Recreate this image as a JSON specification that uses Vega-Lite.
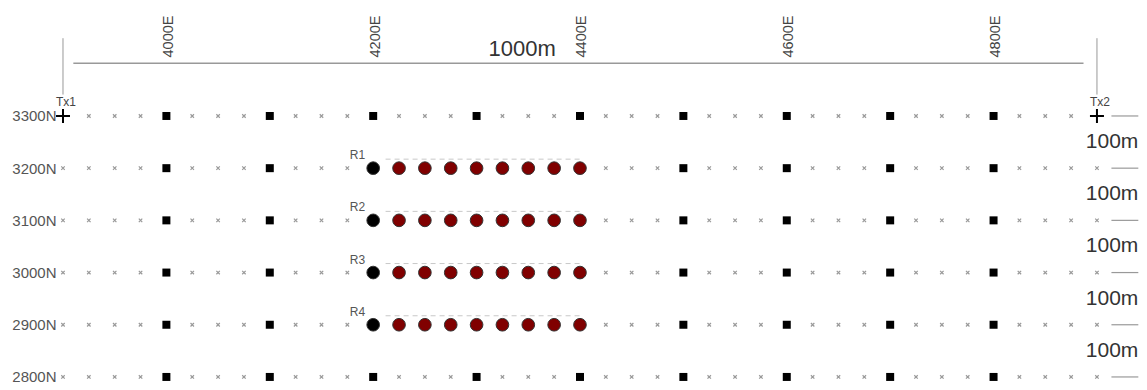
{
"$schema": "https://vega.github.io/schema/vega-lite/v6.json",
"autosize": "none",
"width": 1087,
"height": 328,
"padding": {"left": 60, "top": 62, "right": 0, "bottom": 0},
"background": "white",
"config": {"font": "Liberation Sans", "view": {"stroke": null}, "axis": {"labelFont": "Liberation Sans"}},
"datasets": {
"xs": [
{"e":3925,"n":3300},{"e":3950,"n":3300},{"e":3975,"n":3300},{"e":4025,"n":3300},{"e":4050,"n":3300},{"e":4075,"n":3300},{"e":4125,"n":3300},{"e":4150,"n":3300},{"e":4175,"n":3300},{"e":4225,"n":3300},{"e":4250,"n":3300},{"e":4275,"n":3300},{"e":4325,"n":3300},{"e":4350,"n":3300},{"e":4375,"n":3300},{"e":4425,"n":3300},{"e":4450,"n":3300},{"e":4475,"n":3300},{"e":4525,"n":3300},{"e":4550,"n":3300},{"e":4575,"n":3300},{"e":4625,"n":3300},{"e":4650,"n":3300},{"e":4675,"n":3300},{"e":4725,"n":3300},{"e":4750,"n":3300},{"e":4775,"n":3300},{"e":4825,"n":3300},{"e":4850,"n":3300},{"e":4875,"n":3300},
{"e":3900,"n":3200},{"e":3925,"n":3200},{"e":3950,"n":3200},{"e":3975,"n":3200},{"e":4025,"n":3200},{"e":4050,"n":3200},{"e":4075,"n":3200},{"e":4125,"n":3200},{"e":4150,"n":3200},{"e":4175,"n":3200},{"e":4425,"n":3200},{"e":4450,"n":3200},{"e":4475,"n":3200},{"e":4525,"n":3200},{"e":4550,"n":3200},{"e":4575,"n":3200},{"e":4625,"n":3200},{"e":4650,"n":3200},{"e":4675,"n":3200},{"e":4725,"n":3200},{"e":4750,"n":3200},{"e":4775,"n":3200},{"e":4825,"n":3200},{"e":4850,"n":3200},{"e":4875,"n":3200},{"e":4900,"n":3200},
{"e":3900,"n":3100},{"e":3925,"n":3100},{"e":3950,"n":3100},{"e":3975,"n":3100},{"e":4025,"n":3100},{"e":4050,"n":3100},{"e":4075,"n":3100},{"e":4125,"n":3100},{"e":4150,"n":3100},{"e":4175,"n":3100},{"e":4425,"n":3100},{"e":4450,"n":3100},{"e":4475,"n":3100},{"e":4525,"n":3100},{"e":4550,"n":3100},{"e":4575,"n":3100},{"e":4625,"n":3100},{"e":4650,"n":3100},{"e":4675,"n":3100},{"e":4725,"n":3100},{"e":4750,"n":3100},{"e":4775,"n":3100},{"e":4825,"n":3100},{"e":4850,"n":3100},{"e":4875,"n":3100},{"e":4900,"n":3100},
{"e":3900,"n":3000},{"e":3925,"n":3000},{"e":3950,"n":3000},{"e":3975,"n":3000},{"e":4025,"n":3000},{"e":4050,"n":3000},{"e":4075,"n":3000},{"e":4125,"n":3000},{"e":4150,"n":3000},{"e":4175,"n":3000},{"e":4425,"n":3000},{"e":4450,"n":3000},{"e":4475,"n":3000},{"e":4525,"n":3000},{"e":4550,"n":3000},{"e":4575,"n":3000},{"e":4625,"n":3000},{"e":4650,"n":3000},{"e":4675,"n":3000},{"e":4725,"n":3000},{"e":4750,"n":3000},{"e":4775,"n":3000},{"e":4825,"n":3000},{"e":4850,"n":3000},{"e":4875,"n":3000},{"e":4900,"n":3000},
{"e":3900,"n":2900},{"e":3925,"n":2900},{"e":3950,"n":2900},{"e":3975,"n":2900},{"e":4025,"n":2900},{"e":4050,"n":2900},{"e":4075,"n":2900},{"e":4125,"n":2900},{"e":4150,"n":2900},{"e":4175,"n":2900},{"e":4425,"n":2900},{"e":4450,"n":2900},{"e":4475,"n":2900},{"e":4525,"n":2900},{"e":4550,"n":2900},{"e":4575,"n":2900},{"e":4625,"n":2900},{"e":4650,"n":2900},{"e":4675,"n":2900},{"e":4725,"n":2900},{"e":4750,"n":2900},{"e":4775,"n":2900},{"e":4825,"n":2900},{"e":4850,"n":2900},{"e":4875,"n":2900},{"e":4900,"n":2900},
{"e":3900,"n":2800},{"e":3925,"n":2800},{"e":3950,"n":2800},{"e":3975,"n":2800},{"e":4025,"n":2800},{"e":4050,"n":2800},{"e":4075,"n":2800},{"e":4125,"n":2800},{"e":4150,"n":2800},{"e":4175,"n":2800},{"e":4225,"n":2800},{"e":4250,"n":2800},{"e":4275,"n":2800},{"e":4325,"n":2800},{"e":4350,"n":2800},{"e":4375,"n":2800},{"e":4425,"n":2800},{"e":4450,"n":2800},{"e":4475,"n":2800},{"e":4525,"n":2800},{"e":4550,"n":2800},{"e":4575,"n":2800},{"e":4625,"n":2800},{"e":4650,"n":2800},{"e":4675,"n":2800},{"e":4725,"n":2800},{"e":4750,"n":2800},{"e":4775,"n":2800},{"e":4825,"n":2800},{"e":4850,"n":2800},{"e":4875,"n":2800},{"e":4900,"n":2800}
],
"sq": [
{"e":4000,"n":3300},{"e":4100,"n":3300},{"e":4200,"n":3300},{"e":4300,"n":3300},{"e":4400,"n":3300},{"e":4500,"n":3300},{"e":4600,"n":3300},{"e":4700,"n":3300},{"e":4800,"n":3300},
{"e":4000,"n":3200},{"e":4100,"n":3200},{"e":4500,"n":3200},{"e":4600,"n":3200},{"e":4700,"n":3200},{"e":4800,"n":3200},
{"e":4000,"n":3100},{"e":4100,"n":3100},{"e":4500,"n":3100},{"e":4600,"n":3100},{"e":4700,"n":3100},{"e":4800,"n":3100},
{"e":4000,"n":3000},{"e":4100,"n":3000},{"e":4500,"n":3000},{"e":4600,"n":3000},{"e":4700,"n":3000},{"e":4800,"n":3000},
{"e":4000,"n":2900},{"e":4100,"n":2900},{"e":4500,"n":2900},{"e":4600,"n":2900},{"e":4700,"n":2900},{"e":4800,"n":2900},
{"e":4000,"n":2800},{"e":4100,"n":2800},{"e":4200,"n":2800},{"e":4300,"n":2800},{"e":4400,"n":2800},{"e":4500,"n":2800},{"e":4600,"n":2800},{"e":4700,"n":2800},{"e":4800,"n":2800}
],
"rx": [
{"e":4200,"n":3200,"c":"ref"},{"e":4225,"n":3200,"c":"rx"},{"e":4250,"n":3200,"c":"rx"},{"e":4275,"n":3200,"c":"rx"},{"e":4300,"n":3200,"c":"rx"},{"e":4325,"n":3200,"c":"rx"},{"e":4350,"n":3200,"c":"rx"},{"e":4375,"n":3200,"c":"rx"},{"e":4400,"n":3200,"c":"rx"},
{"e":4200,"n":3100,"c":"ref"},{"e":4225,"n":3100,"c":"rx"},{"e":4250,"n":3100,"c":"rx"},{"e":4275,"n":3100,"c":"rx"},{"e":4300,"n":3100,"c":"rx"},{"e":4325,"n":3100,"c":"rx"},{"e":4350,"n":3100,"c":"rx"},{"e":4375,"n":3100,"c":"rx"},{"e":4400,"n":3100,"c":"rx"},
{"e":4200,"n":3000,"c":"ref"},{"e":4225,"n":3000,"c":"rx"},{"e":4250,"n":3000,"c":"rx"},{"e":4275,"n":3000,"c":"rx"},{"e":4300,"n":3000,"c":"rx"},{"e":4325,"n":3000,"c":"rx"},{"e":4350,"n":3000,"c":"rx"},{"e":4375,"n":3000,"c":"rx"},{"e":4400,"n":3000,"c":"rx"},
{"e":4200,"n":2900,"c":"ref"},{"e":4225,"n":2900,"c":"rx"},{"e":4250,"n":2900,"c":"rx"},{"e":4275,"n":2900,"c":"rx"},{"e":4300,"n":2900,"c":"rx"},{"e":4325,"n":2900,"c":"rx"},{"e":4350,"n":2900,"c":"rx"},{"e":4375,"n":2900,"c":"rx"},{"e":4400,"n":2900,"c":"rx"}
],
"rlines": [
{"e":4212,"e2":4400,"n":3200,"t":"R1"},{"e":4212,"e2":4400,"n":3100,"t":"R2"},{"e":4212,"e2":4400,"n":3000,"t":"R3"},{"e":4212,"e2":4400,"n":2900,"t":"R4"}
],
"tx": [
{"e":3900,"n":3300,"t":"Tx1"},{"e":4900,"n":3300,"t":"Tx2"}
],
"txlines": [
{"e":3900,"n":3341,"n2":3449},{"e":4900,"n":3341,"n2":3449}
],
"bar": [
{"e":3910,"e2":4887,"n":3401}
],
"bartext": [
{"e":4344,"n":3428,"t":"1000m"}
],
"ticks": [
{"e":4914,"e2":4940,"n":3300},{"e":4914,"e2":4940,"n":3200},{"e":4914,"e2":4940,"n":3100},{"e":4914,"e2":4940,"n":3000},{"e":4914,"e2":4940,"n":2900},{"e":4914,"e2":4940,"n":2800}
],
"spacing": [
{"e":4940,"n":3250,"t":"100m"},{"e":4940,"n":3150,"t":"100m"},{"e":4940,"n":3050,"t":"100m"},{"e":4940,"n":2950,"t":"100m"},{"e":4940,"n":2850,"t":"100m"}
]
},
"encoding": {
"x": {"field": "e", "type": "quantitative", "scale": {"domain": [3897.1, 4948.4], "nice": false, "zero": false},
 "axis": {"orient": "top", "values": [4000, 4200, 4400, 4600, 4800], "labelExpr": "datum.value + 'E'", "domain": false, "ticks": false, "grid": false, "title": null, "labelAngle": 270, "labelAlign": "left", "labelBaseline": "middle", "labelPadding": 5, "labelOffset": 2, "labelFontSize": 14.5, "labelColor": "#444", "labelFlush": false, "labelOverlap": false}},
"y": {"field": "n", "type": "quantitative", "scale": {"domain": [2775, 3403.4], "nice": false, "zero": false},
 "axis": {"orient": "left", "values": [2800, 2900, 3000, 3100, 3200, 3300], "labelExpr": "datum.value + 'N'", "domain": false, "ticks": false, "grid": false, "title": null, "labelPadding": 4, "labelFontSize": 15, "labelColor": "#555", "labelFlush": false, "labelOverlap": false, "labelBaseline": "middle"}}
},
"layer": [
{"data": {"name": "txlines"}, "mark": {"type": "rule", "color": "#999", "strokeWidth": 1}, "encoding": {"y2": {"field": "n2"}}},
{"data": {"name": "bar"}, "mark": {"type": "rule", "color": "#999", "strokeWidth": 1.5}, "encoding": {"x2": {"field": "e2"}}},
{"data": {"name": "ticks"}, "mark": {"type": "rule", "color": "#999", "strokeWidth": 1.2}, "encoding": {"x2": {"field": "e2"}}},
{"data": {"name": "rlines"}, "mark": {"type": "rule", "color": "#c8c8c8", "strokeWidth": 1, "strokeDash": [5, 4], "yOffset": -9}, "encoding": {"x2": {"field": "e2"}}},
{"data": {"name": "xs"}, "mark": {"type": "point", "shape": "M-1,-1L1,1M-1,1L1,-1", "size": 12, "filled": false, "stroke": "#999", "strokeWidth": 1.2, "opacity": 1}},
{"data": {"name": "sq"}, "mark": {"type": "square", "size": 64, "color": "#000", "opacity": 1}},
{"data": {"name": "rx"}, "mark": {"type": "circle", "size": 160, "stroke": "#333", "strokeWidth": 1, "opacity": 1},
 "encoding": {"fill": {"field": "c", "type": "nominal", "scale": {"domain": ["ref", "rx"], "range": ["#000000", "#800000"]}, "legend": null}}},
{"data": {"name": "tx"}, "mark": {"type": "point", "shape": "M-1,0L1,0M0,-1L0,1", "size": 196, "filled": false, "stroke": "#000", "strokeWidth": 2, "opacity": 1}},
{"data": {"name": "tx"}, "mark": {"type": "text", "align": "left", "baseline": "alphabetic", "dx": -7, "dy": -10, "fontSize": 12, "color": "#444"}, "encoding": {"text": {"field": "t"}}},
{"data": {"name": "rlines"}, "mark": {"type": "text", "align": "right", "baseline": "alphabetic", "dx": -8, "dy": -9, "fontSize": 12, "color": "#555"}, "encoding": {"x": {"datum": 4200, "type": "quantitative"}, "text": {"field": "t"}}},
{"data": {"name": "bartext"}, "mark": {"type": "text", "align": "center", "baseline": "middle", "fontSize": 22, "color": "#333"}, "encoding": {"text": {"field": "t"}}},
{"data": {"name": "spacing"}, "mark": {"type": "text", "align": "right", "baseline": "middle", "fontSize": 21, "color": "#333"}, "encoding": {"text": {"field": "t"}}}
]
}
